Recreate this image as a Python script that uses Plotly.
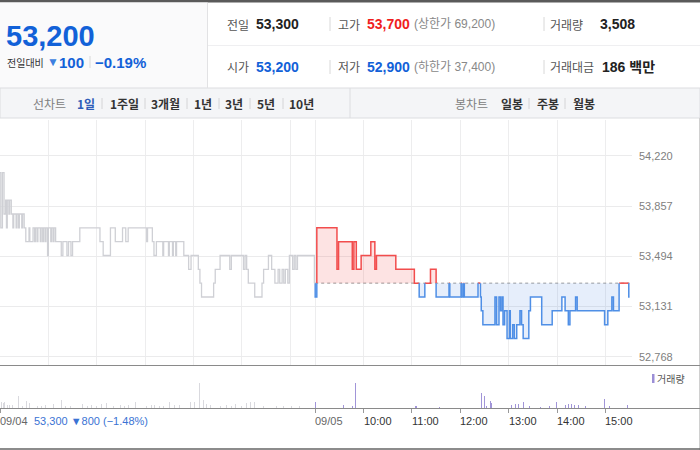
import plotly.graph_objects as go

W, H = 700, 450

# ---------------- data ----------------
PREV_CLOSE = 53300          # 09/04 close = base line of 09/05
DAY2_OFFSET = 391           # minute index where 09/05 09:00 starts
DAY_END = 390               # minutes in a session (09:00-15:30)

# 09/04 price change points: minutes after 09:00, price
day1_min = [0, 1, 3, 5, 7, 8, 9, 11, 12, 14, 16, 17, 20, 21, 23, 24, 27, 28, 30, 32,
            36, 37, 41, 43, 44, 46, 47, 50, 51, 53, 54, 56, 57, 59, 60, 63, 64, 66, 67, 69,
            76, 78, 83, 85, 88, 90, 99, 124, 128, 137, 143, 152, 156, 159, 182, 183, 189, 191, 194,
            202, 203, 209, 210, 214, 215, 218, 219, 228, 234, 237, 246, 248, 250, 265, 267, 273,
            285, 287, 302, 304, 306, 308, 316, 325, 327, 333, 337, 341, 345, 347, 350, 352, 354,
            357, 359, 363, 365, 367, 369, 390]
day1_price = [54100, 53700, 54100, 53800, 53900, 53700, 53900, 53800, 53900, 53800, 53700, 53800, 53700, 53800, 53700, 53800, 53700, 53800, 53700, 53600,
              53700, 53600, 53700, 53600, 53700, 53600, 53700, 53600, 53700, 53600, 53700, 53600, 53700, 53500, 53700, 53600, 53700, 53600, 53700, 53600,
              53500, 53600, 53500, 53600, 53500, 53600, 53700, 53600, 53500, 53700, 53600, 53700, 53600, 53700, 53600, 53700, 53600, 53500, 53600,
              53500, 53600, 53500, 53600, 53500, 53600, 53500, 53600, 53500, 53400, 53500, 53400, 53300, 53200, 53300, 53400, 53500,
              53400, 53500, 53400, 53500, 53400, 53300, 53200, 53300, 53400, 53500, 53400, 53300, 53400, 53300, 53400, 53300, 53400,
              53300, 53500, 53400, 53500, 53400, 53500, 53300]

# 09/05 price change points: minutes after 09:00, price
day2_min = [0, 2, 27, 29, 46, 48, 51, 57, 69, 74, 76, 100, 123, 129, 136, 143, 150, 166, 167,
            181, 182, 184, 185, 202, 205, 206, 208, 223, 225, 228, 230, 232, 233, 235, 238, 241,
            242, 245, 247, 250, 254, 256, 258, 265, 267, 281, 294, 306, 310, 314, 316, 323, 325,
            359, 363, 368, 370, 377, 389]
day2_price = [53200, 53700, 53400, 53600, 53400, 53600, 53400, 53500, 53600, 53400, 53500, 53400, 53300, 53200, 53300, 53400, 53200, 53300, 53200,
              53300, 53200, 53300, 53200, 53300, 53200, 53100, 53000, 53200, 53000, 53200, 53100, 53200, 53000, 53100, 52900, 53100,
              52900, 53000, 52900, 53000, 53100, 53000, 52900, 53100, 53200, 53000, 53100, 53200, 53100, 53000, 53100, 53200, 53100,
              53000, 53100, 53200, 53100, 53300, 53200]

# volume (shares) per minute
vol1_min = [0, 2, 4, 6, 9, 12, 16, 23, 26, 28, 33, 37, 41, 46, 52, 56, 62, 66, 76, 81, 87, 93, 98, 102,
            108, 114, 120, 126, 132, 141, 149, 154, 159, 168, 182, 188, 192, 198, 203, 210, 217, 223,
            227, 236, 241, 248, 252, 256, 261, 268, 273, 281, 287, 292, 300, 306, 311, 316, 327, 335,
            343, 352, 362, 372]
vol1 = [790, 130, 110, 130, 66, 60, 70, 260, 70, 45, 150, 110, 40, 45, 40, 70, 45, 90, 175, 40, 45, 40, 130, 90,
        45, 60, 45, 90, 110, 40, 70, 40, 70, 130, 45, 60, 60, 45, 40, 130, 60, 70,
        45, 130, 130, 550, 175, 90, 60, 70, 45, 60, 40, 90, 40, 110, 130, 130, 40, 45,
        40, 40, 45, 40]
vol2_min = [0, 35, 46, 50, 124, 126, 154, 197, 206, 210, 213, 218, 219, 228, 233, 238, 244, 248, 252,
            258, 266, 280, 291, 299, 310, 314, 318, 322, 327, 335, 359, 365, 387]
vol2 = [130, 66, 44, 550, 44, 44, 22, 44, 330, 265, 44, 150, 110, 44, 44, 285, 66, 88, 88,
        130, 44, 22, 44, 130, 66, 88, 88, 66, 66, 44, 200, 44, 66]

# axes
price_ticks = [52768, 53131, 53494, 53857, 54220]
grid_minutes = [60, 120, 180, 240, 300, 360, 391, 451, 511, 571, 631, 691, 751]
time_tick_minutes = [0, 391, 451, 511, 571, 631, 691, 751]
time_tick_labels = ["09/04", "09/05", "10:00", "11:00", "12:00", "13:00", "14:00", "15:00"]

# header values
cur_price = "53,200"
chg_abs = "100"
chg_pct = "−0.19%"
prev_day_info = "53,300 ▼800 (−1.48%)"
row1 = [("전일", "53,300", "#222"), ("고가", "53,700", "#f01e1e"), ("거래량", "3,508", "#222")]
row2 = [("시가", "53,200", "#1261d8"), ("저가", "52,900", "#1261d8"), ("거래대금", "186 백만", "#222")]
limit_up = "(상한가 69,200)"
limit_down = "(하한가 37,400)"
line_tabs = ["1일", "1주일", "3개월", "1년", "3년", "5년", "10년"]
candle_tabs = ["일봉", "주봉", "월봉"]

# ---------------- helpers ----------------
def X(px):
    return px / W

def Y(px):
    return 1 - px / H

FONT = "Liberation Sans, Noto Sans CJK KR, sans-serif"
KFONT = "Noto Sans CJK KR, Liberation Sans, sans-serif"

def split_by_base(ts, ps, t_end, base):
    vx, vy = [ts[0]], [base]
    prev = base
    for t, p in zip(ts, ps):
        if vx[-1] != t or vy[-1] != prev:
            vx.append(t); vy.append(prev)
        vx.append(t); vy.append(p)
        prev = p
    vx.append(t_end); vy.append(prev)
    ux, uy, dx, dy = [], [], [], []

    def add(lx, ly, a, b):
        if lx and lx[-1] == a[0] and ly[-1] == a[1]:
            lx.append(b[0]); ly.append(b[1])
        else:
            if lx:
                lx.append(None); ly.append(None)
            lx.extend([a[0], b[0]]); ly.extend([a[1], b[1]])

    for i in range(len(vx) - 1):
        x0, y0, x1, y1 = vx[i], vy[i], vx[i + 1], vy[i + 1]
        if y0 == y1:
            if x0 == x1:
                continue
            if y0 >= base:
                add(ux, uy, (x0, y0), (x1, y1))
            else:
                add(dx, dy, (x0, y0), (x1, y1))
        else:
            a, b = max(y0, base), max(y1, base)
            if a != b:
                add(ux, uy, (x0, a), (x1, b))
            a, b = min(y0, base), min(y1, base)
            if a != b:
                add(dx, dy, (x0, a), (x1, b))
    return ux, uy, dx, dy

# ---------------- figure ----------------
fig = go.Figure()

t2 = [DAY2_OFFSET + m for m in day2_min]
t2_end = DAY2_OFFSET + DAY_END
fx = t2 + [t2_end]
up_fill = [max(p, PREV_CLOSE) for p in day2_price] + [max(day2_price[-1], PREV_CLOSE)]
dn_fill = [min(p, PREV_CLOSE) for p in day2_price] + [min(day2_price[-1], PREV_CLOSE)]

fig.add_trace(go.Scatter(x=[t2[0], t2_end], y=[PREV_CLOSE, PREV_CLOSE], mode="lines",
                         line=dict(width=0), hoverinfo="skip", showlegend=False))
fig.add_trace(go.Scatter(x=fx, y=up_fill, mode="lines", line=dict(width=0, shape="hv"),
                         fill="tonexty", fillcolor="rgba(245,80,80,0.16)",
                         hoverinfo="skip", showlegend=False))
fig.add_trace(go.Scatter(x=[t2[0], t2_end], y=[PREV_CLOSE, PREV_CLOSE], mode="lines",
                         line=dict(width=0), hoverinfo="skip", showlegend=False))
fig.add_trace(go.Scatter(x=fx, y=dn_fill, mode="lines", line=dict(width=0, shape="hv"),
                         fill="tonexty", fillcolor="rgba(90,140,225,0.15)",
                         hoverinfo="skip", showlegend=False))

fig.add_trace(go.Scatter(x=day1_min, y=day1_price, mode="lines",
                         line=dict(color="#cfd0d5", width=1.3, shape="hv"),
                         hoverinfo="skip", showlegend=False))

ux, uy, dx, dy = split_by_base(t2, day2_price, t2_end, PREV_CLOSE)
fig.add_trace(go.Scatter(x=ux, y=uy, mode="lines", line=dict(color="#f24d4d", width=1.5),
                         hoverinfo="skip", showlegend=False))
fig.add_trace(go.Scatter(x=dx, y=dy, mode="lines", line=dict(color="#4f8fe6", width=1.5),
                         hoverinfo="skip", showlegend=False))

fig.add_trace(go.Bar(x=vol1_min, y=vol1, width=1.1, marker=dict(color="#d9d9de", line=dict(width=0)),
                     xaxis="x2", yaxis="y2", hoverinfo="skip", showlegend=False))
fig.add_trace(go.Bar(x=[DAY2_OFFSET + m for m in vol2_min], y=vol2, width=1.1,
                     marker=dict(color="#a195d8", line=dict(width=0)),
                     xaxis="x2", yaxis="y2", hoverinfo="skip", showlegend=False))

x_rng = [0, 784]
fig.update_layout(
    width=W, height=H, margin=dict(l=0, r=0, t=0, b=0),
    paper_bgcolor="white", plot_bgcolor="rgba(0,0,0,0)",
    bargap=0,
    xaxis=dict(domain=[0, X(632)], range=x_rng, anchor="y", tickvals=grid_minutes,
               showticklabels=False, ticks="", showgrid=True, gridcolor="#ededee",
               gridwidth=1, zeroline=False, showline=False, fixedrange=True),
    yaxis=dict(domain=[Y(365), Y(120)], range=[52708, 54480], side="right",
               tickvals=price_ticks, ticktext=[f"{v:,}" for v in price_ticks],
               tickfont=dict(family=FONT, size=11, color="#808080"),
               showgrid=True, gridcolor="#ebebec", zeroline=False, ticks="",
               ticklabelstandoff=6, fixedrange=True),
    xaxis2=dict(domain=[0, X(632)], range=x_rng, anchor="y2", tickvals=time_tick_minutes,
                showticklabels=False, ticks="outside", ticklen=4, tickcolor="#999",
                tickwidth=1, showgrid=False, zeroline=False, showline=False, fixedrange=True),
    yaxis2=dict(domain=[Y(408), Y(366)], range=[0, 930], visible=False, fixedrange=True),
)

shapes = []
def rect(x0, y0, x1, y1, fill, line=None, layer="below"):
    shapes.append(dict(type="rect", xref="paper", yref="paper", x0=X(x0), x1=X(x1),
                       y0=Y(y1), y1=Y(y0), fillcolor=fill, layer=layer,
                       line=dict(width=0) if line is None else dict(color=line, width=1)))
def hline(y, x0, x1, color, width=1, dash="solid", layer="above"):
    shapes.append(dict(type="line", xref="paper", yref="paper", x0=X(x0), x1=X(x1),
                       y0=Y(y), y1=Y(y), line=dict(color=color, width=width, dash=dash), layer=layer))
def vline(x, y0, y1, color, width=1):
    shapes.append(dict(type="line", xref="paper", yref="paper", x0=X(x), x1=X(x),
                       y0=Y(y0), y1=Y(y1), line=dict(color=color, width=width), layer="above"))

rect(0, 0, 700, 2.5, "#5a5a5a")
rect(0, 2.5, 207, 88, "#fafafb")
vline(207.5, 2.5, 88, "#e2e2e4")
hline(45.5, 208, 700, "#efeff1")
rect(0, 88, 700, 118, "#f4f5f7", line="#dcdde0")
vline(350, 88, 118, "#dcdde0")
vline(699.5, 118, 450, "#d0d0d0")
hline(365.5, 0, 700, "#8a8a8a")
hline(408.5, 0, 700, "#8a8a8a")
hline(449, 0, 700, "#666", width=1.5)

# dotted base line for 09/05
shapes.append(dict(type="line", xref="x", yref="y", x0=t2[0], x1=t2_end, y0=PREV_CLOSE, y1=PREV_CLOSE,
                   line=dict(color="#9a9a9a", width=1, dash="dot"), layer="between"))

# separators
for x in (330, 544):
    vline(x, 17, 31, "#d8d8d8")
    vline(x, 60, 74, "#d8d8d8")
vline(90, 56, 68, "#d8d8d8")
for x in (102, 145, 187, 219, 250, 283, 529, 565):
    vline(x, 98, 109, "#d4d4d6")

# volume legend marker
rect(652, 374, 654.5, 383, "#9c8fd6", layer="above")

ann = []
def text(x, y, s, size, color, family=FONT, anchor="left", bold=False):
    ann.append(dict(x=X(x), y=Y(y), xref="paper", yref="paper", text=f"<b>{s}</b>" if bold else s,
                    showarrow=False, xanchor=anchor, yanchor="middle",
                    font=dict(family=family, size=size, color=color), borderpad=0))

text(5, 36, cur_price, 29, "#1261d8", bold=True)
text(6, 62, "전일대비", 10, "#333", family=KFONT)
text(46, 62, "▼", 12, "#3d7fe0")
text(58, 62, chg_abs, 15, "#1261d8", bold=True)
text(94, 62, chg_pct, 15, "#1261d8", bold=True)

lab_x = [226, 337, 549]
val_x = [255, 366, 599]
for (lab, val, col), lx, vx in zip(row1, lab_x, val_x):
    text(lx, 24, lab, 12, "#555", family=KFONT)
    text(vx, 24, val, 14, col, bold=True)
for (lab, val, col), lx, vx in zip(row2, lab_x, val_x):
    vxx = vx + 2 if lab == "거래대금" else vx
    text(lx, 67, lab, 12, "#555", family=KFONT)
    text(vxx, 67, val, 14, col, bold=True)
text(413, 24, limit_up, 12, "#888")
text(413, 67, limit_down, 12, "#888")

text(32, 103, "선차트", 12, "#808080", family=KFONT)
tab_x = [76, 109, 150, 193, 224, 256, 288]
for s, x in zip(line_tabs, tab_x):
    text(x, 103, s, 12, "#2e5cb8" if s == "1일" else "#333", family=KFONT, bold=True)
text(454, 103, "봉차트", 12, "#808080", family=KFONT)
for s, x in zip(candle_tabs, [500, 536, 572]):
    text(x, 103, s, 12, "#333", family=KFONT, bold=True)

text(656, 378, "거래량", 10, "#555", family=KFONT)

# x-axis labels (left-aligned at their ticks)
for m, lab in zip(time_tick_minutes, time_tick_labels):
    col = "#666" if "/" in lab else "#333"
    ann.append(dict(x=m, y=Y(421), xref="x2", yref="paper", text=lab, showarrow=False,
                    xanchor="left", yanchor="middle", borderpad=0, xshift=-1,
                    font=dict(family=FONT, size=11, color=col)))
text(33, 421, prev_day_info, 11, "#3a73d4")

fig.update_layout(shapes=shapes, annotations=ann)
fig.write_html("out.html", config={"displayModeBar": False, "staticPlot": True},
               post_script="document.body.style.margin='0';document.body.style.overflow='hidden';")
